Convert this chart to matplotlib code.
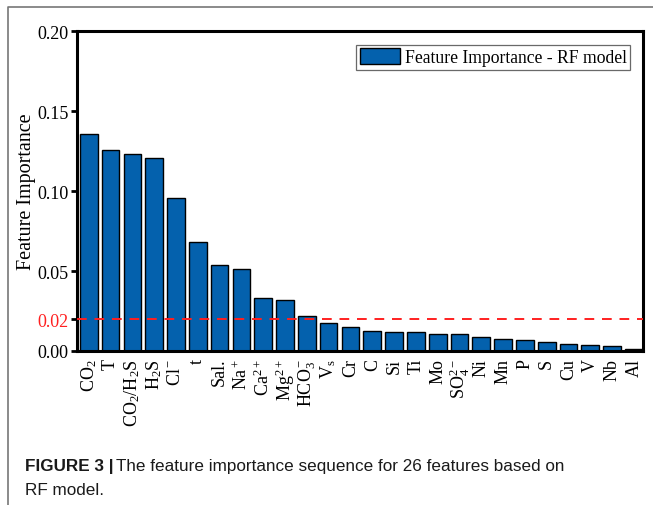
import matplotlib
matplotlib.use("Agg")
import matplotlib.pyplot as plt
from matplotlib.lines import Line2D

plt.rcParams['font.family'] = ['Liberation Serif', 'DejaVu Serif']
plt.rcParams['mathtext.fontset'] = 'custom'
plt.rcParams['mathtext.rm'] = 'Liberation Serif'
plt.rcParams['mathtext.it'] = 'Liberation Serif:italic'
plt.rcParams['mathtext.bf'] = 'Liberation Serif:bold'

# feature names and RF importances, sorted high to low
features = ['CO$_2$', 'T', 'CO$_2$/H$_2$S', 'H$_2$S', 'Cl$^-$', 't', 'Sal.',
            'Na$^+$', 'Ca$^{2+}$', 'Mg$^{2+}$', 'HCO$_3^-$', 'V$_\\mathrm{s}$',
            'Cr', 'C', 'Si', 'Ti', 'Mo', 'SO$_4^{2-}$', 'Ni', 'Mn', 'P', 'S',
            'Cu', 'V', 'Nb', 'Al']
importance = [0.136, 0.126, 0.123, 0.121, 0.096, 0.068, 0.054, 0.051, 0.033,
              0.032, 0.022, 0.0173, 0.015, 0.0125, 0.0119, 0.0117, 0.0108,
              0.0105, 0.0090, 0.0073, 0.0067, 0.0054, 0.0042, 0.0038, 0.0029,
              0.0011]
threshold = 0.02
yticks = [0.00, 0.02, 0.05, 0.10, 0.15, 0.20]
yticklabels = ['0.00', '0.02', '0.05', '0.10', '0.15', '0.20']

W, H = 653, 506
fig = plt.figure(figsize=(W / 100, H / 100), dpi=100)
ax = fig.add_axes([77 / W, 1 - 352 / H, (643.3 - 77) / W, (352 - 32.3) / H])

x = range(len(features))
ax.bar(x, importance, width=0.81, color='#0461ad', edgecolor='black',
       linewidth=1.0, label='Feature Importance - RF model', zorder=2)
ax.axhline(threshold, color='#ff2020', linestyle=(0, (5, 4)), linewidth=1.4,
           zorder=3)

ax.set_xlim(-0.54, 25.43)
ax.set_ylim(0, 0.20)
ax.set_xticks(list(x))
ax.set_xticklabels(features, rotation=90, fontsize=13)
ax.tick_params(axis='x', length=0, pad=5)
ax.set_yticks(yticks)
ax.set_yticklabels(yticklabels, fontsize=13)
ax.tick_params(axis='y', direction='out', length=4, width=2, pad=2)
ax.get_yticklabels()[1].set_color('#ff2020')
for s in ax.spines.values():
    s.set_linewidth(2.2)

ax.set_ylabel('Feature Importance', fontsize=14.5, labelpad=1)

leg = ax.legend(loc='upper right', fontsize=12.7, frameon=True, fancybox=False,
                handlelength=2.3, handleheight=1.05, handletextpad=0.25,
                borderpad=0.2, borderaxespad=0.75)
leg.get_frame().set_edgecolor('#444444')
leg.get_frame().set_linewidth(0.9)

# thin page frame round the figure
fig.add_artist(Line2D([7.5 / W, 7.5 / W, 1], [0, 1 - 8 / H, 1 - 8 / H],
                      transform=fig.transFigure, color='#777777', linewidth=1.2))

# caption
cap_font = ['Liberation Sans', 'DejaVu Sans']
t1 = fig.text(25 / W, 1 - 471 / H, 'FIGURE 3 |', family=cap_font,
              fontweight='bold', fontsize=12.3, color='#1a1a1a')
fig.canvas.draw()
bb = t1.get_window_extent()
fig.text((bb.x1 + 3) / W, 1 - 471 / H,
         'The feature importance sequence for 26 features based on',
         family=cap_font, fontsize=12.3, color='#1a1a1a')
fig.text(25 / W, 1 - 495 / H, 'RF model.', family=cap_font, fontsize=12.3,
         color='#1a1a1a')

fig.savefig('out.png', dpi=100)
